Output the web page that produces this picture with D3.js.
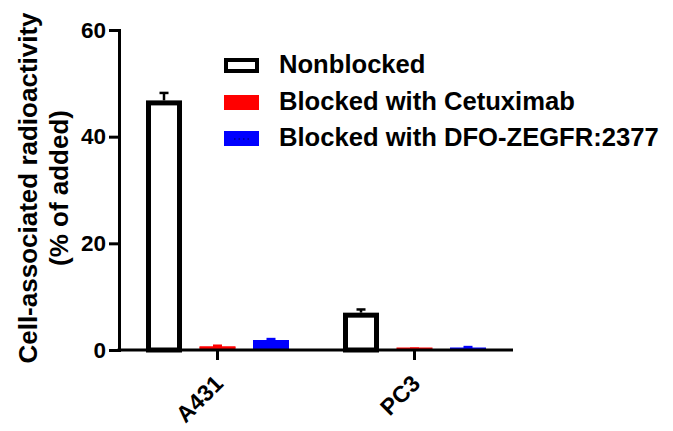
<!DOCTYPE html>
<html>
<head>
<meta charset="utf-8">
<script src="https://cdn.jsdelivr.net/npm/d3@7"></script>
<style>
  html, body { margin: 0; padding: 0; background: #fff; }
  svg { display: block; }
  text { font-family: "Liberation Sans", Arial, sans-serif; font-weight: bold; }
</style>
</head>
<body>
<svg id="chart" width="673" height="431"></svg>
<script>
// ---- data ----
const categories = ["A431", "PC3"];
const seriesNames = ["Nonblocked", "Blocked with Cetuximab", "Blocked with DFO-ZEGFR:2377"];
const nonblocked = [46.8, 7.0];
const nonblockedErr = [1.4, 0.6];
const cetuximab = [0.5, 0.2];
const cetuximabErr = [0.3, 0.05];
const dfo = [1.7, 0.3];
const dfoErr = [0.35, 0.25];
const yTicks = [0, 20, 40, 60];
const seriesColors = ["#ffffff", "#ff0000", "#0000ff"];
const seriesStroke = ["#000000", "#ff0000", "#0000ff"];

const series = [
  { name: seriesNames[0], values: nonblocked, errs: nonblockedErr },
  { name: seriesNames[1], values: cetuximab, errs: cetuximabErr },
  { name: seriesNames[2], values: dfo, errs: dfoErr }
];

const svg = d3.select("#chart");
const margin = { left: 119, right: 160, top: 30, bottom: 81 };
const W = 673, H = 431;

const x = d3.scaleBand().domain(categories).range([margin.left, W - margin.right]).padding(0);
const y = d3.scaleLinear().domain([0, 60]).range([H - margin.bottom, margin.top]);
const sub = d3.scaleBand().domain(d3.range(series.length)).range([-71.5, 71.5]).paddingInner(0.327).paddingOuter(0);

// bars
series.forEach((s, i) => {
  const isOutline = i === 0;
  const sw = isOutline ? 5 : 0;
  const g = svg.append("g");
  g.selectAll("rect").data(categories).join("rect")
    .attr("x", (c) => x(c) + x.bandwidth() / 2 + sub(i) + sw / 2)
    .attr("width", sub.bandwidth() - sw)
    .attr("y", (c, k) => y(s.values[k]) + sw / 2)
    .attr("height", (c, k) => Math.max(0, y(0) - y(s.values[k]) - sw / 2))
    .attr("fill", seriesColors[i])
    .attr("stroke", isOutline ? seriesStroke[i] : "none")
    .attr("stroke-width", sw);
  if (!isOutline) {
    g.selectAll("line.base").data(categories).join("line")
      .attr("x1", (c) => x(c) + x.bandwidth() / 2 + sub(i))
      .attr("x2", (c) => x(c) + x.bandwidth() / 2 + sub(i) + sub.bandwidth())
      .attr("y1", (c, k) => Math.min(y(s.values[k]), y(0) - 1.5))
      .attr("y2", (c, k) => Math.min(y(s.values[k]), y(0) - 1.5))
      .attr("stroke", seriesStroke[i]).attr("stroke-width", 2);
  }
  // error bars (upper)
  const eg = svg.append("g");
  categories.forEach((c, k) => {
    const cx = x(c) + x.bandwidth() / 2 + sub(i) + sub.bandwidth() / 2;
    const top = y(s.values[k] + s.errs[k]);
    const base = y(s.values[k]);
    eg.append("line").attr("x1", cx).attr("x2", cx).attr("y1", base).attr("y2", top)
      .attr("stroke", seriesStroke[i]).attr("stroke-width", 2.5);
    eg.append("line").attr("x1", cx - 4.5).attr("x2", cx + 4.5).attr("y1", top).attr("y2", top)
      .attr("stroke", seriesStroke[i]).attr("stroke-width", 2.5);
  });
});

// y axis
const yAxis = svg.append("g").attr("transform", `translate(${margin.left},0)`)
  .call(d3.axisLeft(y).tickValues(yTicks).tickSize(10).tickPadding(3));
yAxis.select(".domain").attr("stroke", "#000").attr("stroke-width", 3);
yAxis.selectAll(".tick line").attr("stroke", "#000").attr("stroke-width", 3);
yAxis.selectAll(".tick text").attr("font-size", 22.5).attr("fill", "#000")
  .attr("font-family", "Liberation Sans, Arial, sans-serif").attr("font-weight", "bold");

// x axis
const xAxis = svg.append("g").attr("transform", `translate(0,${y(0)})`)
  .call(d3.axisBottom(x).tickSizeOuter(0).tickSize(10).tickPadding(4));
xAxis.select(".domain").attr("stroke", "#000").attr("stroke-width", 3)
  .attr("d", `M${margin.left - 1.5},0H${W - margin.right}`);
xAxis.selectAll(".tick line").attr("stroke", "#000").attr("stroke-width", 3);
xAxis.selectAll(".tick text")
  .attr("font-size", 23).attr("fill", "#000")
  .attr("font-family", "Liberation Sans, Arial, sans-serif").attr("font-weight", "bold")
  .attr("text-anchor", "end")
  .attr("dy", 0)
  .attr("transform", "translate(7,35) rotate(-45)")
  .attr("y", 0).attr("x", 0);

// y axis title
const yt = svg.append("text")
  .attr("transform", `translate(37,${(y(0) + y(60)) / 2 - 2}) rotate(-90)`)
  .attr("text-anchor", "middle").attr("font-size", 26).attr("fill", "#000");
yt.append("tspan").attr("x", 0).attr("dy", 0).text("Cell-associated radioactivity");
yt.append("tspan").attr("x", 0).attr("dy", 31).text("(% of added)");

// legend
const legend = svg.append("g");
const swatchTop = [58, 95, 131];
series.forEach((s, i) => {
  const top = swatchTop[i];
  if (i === 0) {
    legend.append("rect").attr("x", 226).attr("y", top + 2).attr("width", 31).attr("height", 11)
      .attr("fill", "#fff").attr("stroke", "#000").attr("stroke-width", 4);
  } else {
    legend.append("rect").attr("x", 224).attr("y", top).attr("width", 35).attr("height", 15)
      .attr("fill", seriesColors[i]);
  }
  if (i === 2) {
    legend.append("line").attr("x1", 234).attr("x2", 250).attr("y1", top + 8).attr("y2", top + 8)
      .attr("stroke", "#00004a").attr("stroke-width", 1.2).attr("stroke-dasharray", "1.5,3");
  }
  legend.append("text").attr("x", 279).attr("y", top + 15)
    .attr("font-size", 25.6).attr("fill", "#000").text(s.name);
});
</script>
</body>
</html>
